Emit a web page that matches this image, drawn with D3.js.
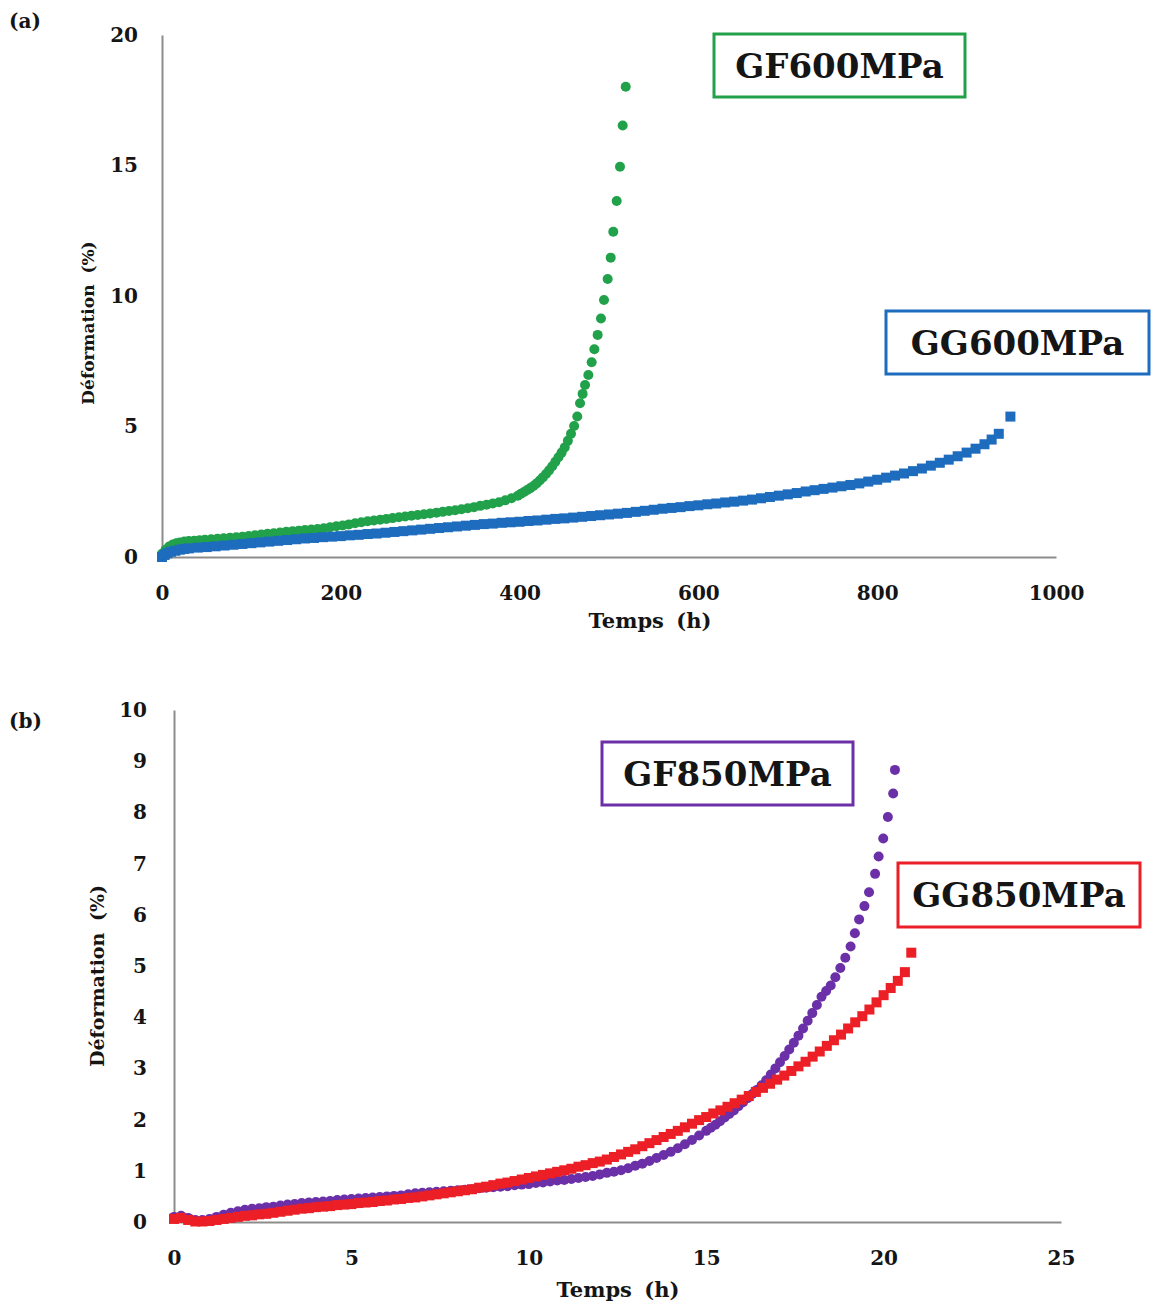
<!DOCTYPE html>
<html>
<head>
<meta charset="utf-8">
<script src="https://cdn.jsdelivr.net/npm/d3@7"></script>
<style>
  html, body { margin: 0; padding: 0; background: #fff; }
  svg { display: block; }
  text { font-family: "DejaVu Serif", serif; font-weight: bold; fill: #151515; }
</style>
</head>
<body>
<svg id="chart" width="1151" height="1303"></svg>
<script>
// ---------------- DATA ----------------
// Panel (a): time (h), strain (%)
const xTicksA = [0, 200, 400, 600, 800, 1000];
const yTicksA = [0, 5, 10, 15, 20];
const gf600 = [
  [0,0.12],[4,0.28],[8,0.40],[12,0.48],[16,0.53],[20,0.56],[25,0.59],[30,0.61],[36,0.62],[42,0.64],
  [48,0.66],[55,0.68],[62,0.70],[69,0.72],[76,0.74],[83,0.76],[90,0.78],[97,0.80],[104,0.83],[111,0.86],
  [118,0.89],[125,0.91],[132,0.94],[139,0.97],[146,0.99],[153,1.01],[160,1.03],[167,1.05],[174,1.07],[181,1.10],
  [188,1.14],[195,1.18],[202,1.21],[209,1.25],[216,1.29],[223,1.33],[230,1.37],[237,1.40],[244,1.43],[251,1.46],
  [258,1.49],[265,1.52],[272,1.55],[279,1.58],[286,1.61],[293,1.64],[300,1.67],[307,1.70],[314,1.73],[321,1.76],
  [328,1.79],[335,1.83],[342,1.87],[349,1.91],[356,1.96],[363,2.00],[370,2.05],[377,2.10],[384,2.17],[391,2.25],
  [398,2.35],[401.5,2.42],[405,2.49],[408.5,2.57],[412,2.64],[415.5,2.72],[419,2.82],[422.5,2.93],[426,3.05],[429.5,3.18],
  [433,3.32],[436.5,3.48],[440,3.65],[443.5,3.82],[447,4.00],[450.5,4.20],[454,4.45],[457.5,4.72],[461,5.02],[464.5,5.38],
  [467.6,5.89],[470.5,6.25],[473.2,6.59],[476.9,6.97],[480.6,7.46],[483.6,7.96],[487.3,8.51],[491,9.14],[494.4,9.85],[498.5,10.65],
  [501.9,11.47],[504.8,12.46],[508.6,13.64],[512.3,14.95],[515.3,16.53],[518.7,18.02]
];
const gg600 = [
  [0,0.00],[3,0.08],[6,0.14],[10,0.20],[15,0.24],[20,0.28],[25,0.31],[30,0.33],[40,0.36],[50,0.38],
  [60,0.41],[70,0.44],[80,0.47],[90,0.50],[100,0.53],[110,0.56],[120,0.59],[130,0.62],[140,0.65],[150,0.68],
  [160,0.71],[170,0.73],[180,0.76],[190,0.78],[200,0.80],[210,0.83],[220,0.85],[230,0.88],[240,0.90],[250,0.93],
  [260,0.96],[270,0.99],[280,1.02],[290,1.05],[300,1.08],[310,1.11],[320,1.14],[330,1.17],[340,1.20],[350,1.23],
  [360,1.26],[370,1.28],[380,1.31],[390,1.33],[400,1.35],[410,1.38],[420,1.40],[430,1.43],[440,1.46],[450,1.48],
  [460,1.51],[470,1.54],[480,1.57],[490,1.60],[500,1.63],[510,1.66],[520,1.69],[530,1.73],[540,1.77],[550,1.81],
  [560,1.85],[570,1.88],[580,1.91],[590,1.95],[600,1.98],[610,2.02],[620,2.05],[630,2.09],[640,2.12],[650,2.16],
  [660,2.20],[670,2.25],[680,2.30],[690,2.35],[700,2.40],[710,2.45],[720,2.51],[730,2.56],[740,2.61],[750,2.66],
  [760,2.71],[770,2.76],[780,2.82],[790,2.89],[800,2.96],[810,3.04],[820,3.12],[830,3.20],[840,3.29],[850,3.39],
  [860,3.50],[870,3.61],[880,3.73],[890,3.86],[900,4.00],[910,4.15],[920,4.32],[928,4.50],[936,4.72],[949,5.38]
];
// Panel (b)
const xTicksB = [0, 5, 10, 15, 20, 25];
const yTicksB = [0, 1, 2, 3, 4, 5, 6, 7, 8, 9, 10];
const gf850 = [
  [0,0.10],[0.2,0.12],[0.4,0.08],[0.6,0.04],[0.8,0.04],[1.0,0.06],[1.2,0.10],[1.4,0.14],[1.6,0.18],[1.8,0.21],
  [2.0,0.24],[2.2,0.26],[2.4,0.27],[2.6,0.29],[2.8,0.30],[3.0,0.32],[3.2,0.34],[3.4,0.35],[3.6,0.37],[3.8,0.38],
  [4.0,0.39],[4.2,0.40],[4.4,0.41],[4.6,0.43],[4.8,0.44],[5.0,0.45],[5.2,0.46],[5.4,0.47],[5.6,0.48],[5.8,0.49],
  [6.0,0.50],[6.2,0.51],[6.4,0.52],[6.6,0.54],[6.8,0.56],[7.0,0.57],[7.2,0.58],[7.4,0.59],[7.6,0.60],[7.8,0.61],
  [8.0,0.62],[8.2,0.63],[8.4,0.64],[8.6,0.66],[8.8,0.67],[9.0,0.68],[9.2,0.69],[9.4,0.70],[9.6,0.72],[9.8,0.73],
  [10.0,0.74],[10.2,0.76],[10.4,0.77],[10.6,0.79],[10.8,0.81],[11.0,0.82],[11.2,0.84],[11.4,0.86],[11.6,0.88],[11.8,0.90],
  [12.0,0.93],[12.2,0.96],[12.4,0.98],[12.6,1.01],[12.8,1.05],[13.0,1.10],[13.2,1.14],[13.4,1.19],[13.6,1.25],[13.8,1.31],
  [14.0,1.37],[14.2,1.44],[14.4,1.52],[14.6,1.60],[14.8,1.69],[15.0,1.78],[15.13,1.84],[15.26,1.90],[15.39,1.97],[15.52,2.04],
  [15.65,2.11],[15.78,2.18],[15.91,2.26],[16.04,2.34],[16.17,2.42],[16.30,2.50],[16.43,2.58],[16.56,2.67],[16.69,2.77],[16.82,2.88],
  [16.95,3.00],[17.08,3.12],[17.21,3.24],[17.34,3.37],[17.47,3.50],[17.60,3.64],[17.73,3.78],[17.86,3.93],[17.99,4.08],[18.12,4.24],
  [18.25,4.40],[18.38,4.51],[18.51,4.62],[18.64,4.78],[18.78,4.96],[18.92,5.16],[19.07,5.38],[19.19,5.64],[19.31,5.91],[19.46,6.17],
  [19.59,6.44],[19.76,6.80],[19.86,7.14],[19.99,7.49],[20.12,7.91],[20.27,8.37],[20.32,8.83]
];
const gg850 = [
  [0,0.06],[0.2,0.08],[0.4,0.04],[0.6,0.01],[0.8,0.01],[1.0,0.02],[1.2,0.04],[1.4,0.06],[1.6,0.08],[1.8,0.10],
  [2.0,0.12],[2.2,0.13],[2.4,0.15],[2.6,0.16],[2.8,0.18],[3.0,0.20],[3.2,0.22],[3.4,0.24],[3.6,0.26],[3.8,0.27],
  [4.0,0.29],[4.2,0.30],[4.4,0.31],[4.6,0.33],[4.8,0.34],[5.0,0.35],[5.2,0.37],[5.4,0.38],[5.6,0.39],[5.8,0.41],
  [6.0,0.42],[6.2,0.44],[6.4,0.45],[6.6,0.47],[6.8,0.48],[7.0,0.50],[7.2,0.52],[7.4,0.54],[7.6,0.56],[7.8,0.58],
  [8.0,0.60],[8.2,0.62],[8.4,0.64],[8.6,0.67],[8.8,0.69],[9.0,0.72],[9.2,0.75],[9.4,0.77],[9.6,0.80],[9.8,0.83],
  [10.0,0.86],[10.2,0.89],[10.4,0.92],[10.6,0.95],[10.8,0.98],[11.0,1.01],[11.2,1.04],[11.4,1.08],[11.6,1.11],[11.8,1.15],
  [12.0,1.18],[12.2,1.22],[12.4,1.27],[12.6,1.32],[12.8,1.37],[13.0,1.42],[13.2,1.48],[13.4,1.54],[13.6,1.60],[13.8,1.66],
  [14.0,1.72],[14.2,1.78],[14.4,1.85],[14.6,1.92],[14.8,1.99],[15.0,2.05],[15.2,2.12],[15.4,2.18],[15.6,2.25],[15.8,2.32],
  [16.0,2.39],[16.2,2.46],[16.4,2.54],[16.6,2.62],[16.8,2.70],[17.0,2.78],[17.2,2.86],[17.4,2.95],[17.6,3.04],[17.8,3.13],
  [18.0,3.23],[18.2,3.33],[18.4,3.44],[18.6,3.55],[18.8,3.66],[19.0,3.78],[19.2,3.90],[19.4,4.02],[19.6,4.15],[19.8,4.29],
  [20.0,4.43],[20.2,4.57],[20.4,4.71],[20.6,4.88],[20.78,5.26]
];
const panelLabels = ["(a)", "(b)"];
const xTitle = "Temps (h)";
const yTitle = "Déformation (%)";
const legendA = ["GF600MPa", "GG600MPa"];
const legendB = ["GF850MPa", "GG850MPa"];
const colGreen = "#22a14b", colBlue = "#1d6cbd", colPurple = "#6b30a8", colRed = "#ec1f26";

// ---------------- DRAW ----------------
const svg = d3.select("#chart");
const axisColor = "#8c8c8c";

function panel(cfg) {
  const x = d3.scaleLinear().domain(cfg.xDomain).range(cfg.xRange);
  const y = d3.scaleLinear().domain(cfg.yDomain).range(cfg.yRange);
  const g = svg.append("g");

  const ax = g.append("g").attr("transform", `translate(0,${cfg.yRange[0]})`)
    .call(d3.axisBottom(x).tickValues(cfg.xTicks).tickSize(0).tickPadding(29).tickFormat(d3.format("d")));
  const ay = g.append("g").attr("transform", `translate(${cfg.xRange[0]},0)`)
    .call(d3.axisLeft(y).tickValues(cfg.yTicks).tickSize(0).tickPadding(cfg.yPad).tickFormat(d3.format("d")));
  [ax, ay].forEach(a => {
    a.select(".domain").attr("stroke", axisColor).attr("stroke-width", 2);
    a.selectAll("text").attr("font-size", 20).attr("font-family", "DejaVu Serif").attr("font-weight", "bold").attr("fill", "#151515");
  });

  // series
  cfg.series.forEach(s => {
    if (s.shape === "circle") {
      g.append("g").selectAll("circle").data(s.data).join("circle")
        .attr("cx", d => x(d[0])).attr("cy", d => y(d[1])).attr("r", s.size / 2)
        .attr("fill", s.color);
    } else {
      g.append("g").selectAll("rect").data(s.data).join("rect")
        .attr("x", d => x(d[0]) - s.size / 2).attr("y", d => y(d[1]) - s.size / 2)
        .attr("width", s.size).attr("height", s.size).attr("fill", s.color);
    }
  });

  // titles
  g.append("text").attr("x", cfg.xTitlePos[0]).attr("y", cfg.xTitlePos[1])
    .attr("text-anchor", "middle").attr("font-size", 21).attr("word-spacing", 5).text(xTitle);
  g.append("text").attr("transform", `translate(${cfg.yTitlePos[0]},${cfg.yTitlePos[1]}) rotate(-90)`)
    .attr("text-anchor", "middle").attr("font-size", cfg.yTitleSize).attr("word-spacing", 5).text(yTitle);
  g.append("text").attr("x", cfg.labelPos[0]).attr("y", cfg.labelPos[1])
    .attr("font-size", 20).text(cfg.label);

  // legend boxes
  cfg.legends.forEach(l => {
    g.append("rect").attr("x", l.box[0]).attr("y", l.box[1]).attr("width", l.box[2]).attr("height", l.box[3])
      .attr("fill", "#fff").attr("stroke", l.color).attr("stroke-width", 3);
    g.append("text").attr("x", l.box[0] + l.box[2] / 2).attr("y", l.box[1] + l.box[3] / 2)
      .attr("dy", "0.36em").attr("text-anchor", "middle").attr("font-size", 34).text(l.text);
  });
}

panel({
  xDomain: [0, 1000], xRange: [162, 1056],
  yDomain: [0, 20], yRange: [557, 35],
  xTicks: xTicksA, yTicks: yTicksA, yPad: 24,
  series: [
    { data: gf600, shape: "circle", size: 10, color: colGreen },
    { data: gg600, shape: "square", size: 10, color: colBlue }
  ],
  xTitlePos: [650, 628], yTitlePos: [94, 323], yTitleSize: 17, labelPos: [9, 28], label: panelLabels[0],
  legends: [
    { box: [714, 34, 251, 63], color: colGreen, text: legendA[0] },
    { box: [886, 311, 263, 63], color: colBlue, text: legendA[1] }
  ]
});

panel({
  xDomain: [0, 25], xRange: [174, 1061],
  yDomain: [0, 10], yRange: [1222, 710],
  xTicks: xTicksB, yTicks: yTicksB, yPad: 27,
  series: [
    { data: gf850, shape: "circle", size: 10, color: colPurple },
    { data: gg850, shape: "square", size: 10, color: colRed }
  ],
  xTitlePos: [618, 1297], yTitlePos: [104, 976], yTitleSize: 19, labelPos: [9, 728], label: panelLabels[1],
  legends: [
    { box: [602, 742, 251, 63], color: colPurple, text: legendB[0] },
    { box: [898, 863, 242, 64], color: colRed, text: legendB[1] }
  ]
});
</script>
</body>
</html>
